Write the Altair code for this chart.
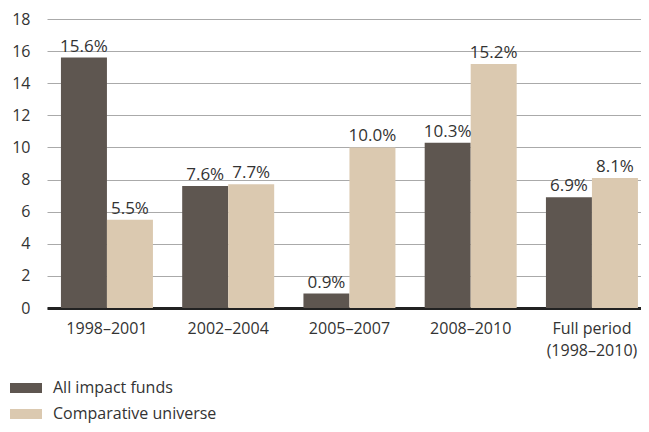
import altair as alt
import pandas as pd

categories = ["1998–2001", "2002–2004", "2005–2007", "2008–2010", "Full period (1998–2010)"]
series = ["All impact funds", "Comparative universe"]
impact = [15.6, 7.6, 0.9, 10.3, 6.9]
comparative = [5.5, 7.7, 10.0, 15.2, 8.1]
colors = ["#5e5650", "#dbc9b0"]

rows = []
for c, a, b in zip(categories, impact, comparative):
    rows.append({"period": c, "series": series[0], "value": a})
    rows.append({"period": c, "series": series[1], "value": b})
df = pd.DataFrame(rows)

FONT = "Open Sans"
label_expr = ("indexof(datum.label, ' (') > 0 ? "
              "[substring(datum.label, 0, indexof(datum.label, ' (')), "
              "substring(datum.label, indexof(datum.label, ' (') + 1)] : datum.label")

x = alt.X("period:N", sort=categories, title=None,
          scale=alt.Scale(paddingInner=0.2412, paddingOuter=0.0701, align=0.82),
          axis=alt.Axis(labelAngle=0, labelExpr=label_expr, labelFont=FONT, labelFontSize=16,
                        labelColor="#333333", labelPadding=12, ticks=False, domainColor="#222222",
                        domainWidth=3, labelLineHeight=22, grid=False))
xo = alt.XOffset("series:N", sort=series)
y = alt.Y("value:Q", title=None,
          scale=alt.Scale(domain=[0, 18]),
          axis=alt.Axis(values=list(range(0, 19, 2)), domain=False, ticks=False,
                        labelFont=FONT, labelFontSize=16, labelColor="#333333",
                        labelPadding=17, gridColor="#aaaaaa", gridWidth=1))

bars = alt.Chart(df).mark_bar().encode(
    x=x, xOffset=xo, y=y,
    color=alt.Color("series:N", sort=series, title=None,
                    scale=alt.Scale(domain=series, range=colors),
                    legend=alt.Legend(orient="none", legendX=-37, legendY=353,
                                      direction="vertical",
                                      symbolType="M-1,-0.3125H1V0.3125H-1Z",
                                      symbolSize=1024, symbolStrokeWidth=0, symbolOpacity=1,
                                      labelFont=FONT, labelFontSize=16, labelColor="#333333",
                                      labelOffset=11, labelLimit=0, rowPadding=2,
                                      padding=0, offset=0)),
)

texts = alt.Chart(df).transform_calculate(
    label="format(datum.value, '.1f') + '%'"
).mark_text(baseline="alphabetic", dy=-6, font=FONT, fontSize=17, color="#333333").encode(
    x=x, xOffset=xo, y=y, text="label:N"
)

chart = alt.layer(bars, texts).properties(
    width=594, height=289,
    autosize=alt.AutoSizeParams(type="none"),
    padding={"left": 39, "top": 11, "right": 0, "bottom": 116},
    background="white",
).configure_view(stroke=None)

chart.save("out.html", embed_options={"renderer": "svg", "actions": False})
